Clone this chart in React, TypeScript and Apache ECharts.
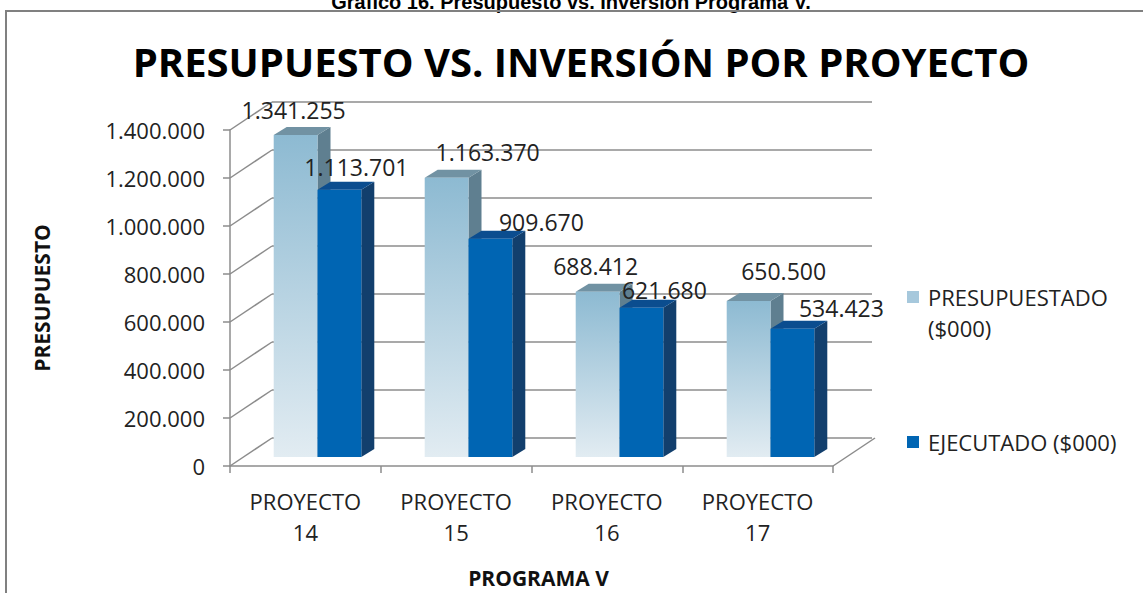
import React, { useEffect, useRef } from 'react';
import * as echarts from 'echarts';

const categories = ['PROYECTO\n14', 'PROYECTO\n15', 'PROYECTO\n16', 'PROYECTO\n17'];
const presupuestado = [1341255, 1163370, 688412, 650500];
const ejecutado = [1113701, 909670, 621680, 534423];
const seriesNames = ['PRESUPUESTADO ($000)', 'EJECUTADO ($000)'];
const yTicks = [0, 200000, 400000, 600000, 800000, 1000000, 1200000, 1400000];
const Y_MIN = 0;
const Y_MAX = 1400000;
const Y_INTERVAL = 200000;

const mainTitle = 'PRESUPUESTO VS. INVERSIÓN POR PROYECTO';
const caption = 'Gráfico 16. Presupuesto vs. Inversión Programa V.';
const yName = 'PRESUPUESTO';
const xName = 'PROGRAMA V';

// label nudges relative to each bar's front top (styling only)
const labelShiftLight = [[-2, -25], [41, -26], [-2, -26], [35, -30]];
const labelShiftDark = [[17, -23], [51, -17], [23, -18], [49, -21]];

const FONT = '"Open Sans", "Noto Sans", sans-serif';
const GRID_COLOR = '#8c8c8c';
const TEXT_COLOR = '#222222';
const BAR_DX = 13;
const BAR_DY = -8;
const WALL_DX = 42;
const WALL_DY = -28;

const fmt = (v: number) => String(Math.round(v)).replace(/\B(?=(\d{3})+(?!\d))/g, '.');

function makeBarRender(side: number, colors: any, shifts: number[][]) {
  return (params: any, api: any) => {
    const i = api.value(0) as number;
    const v = api.value(1) as number;
    const base = api.coord([i, 0]);
    const top = api.coord([i, v]);
    const band = api.size([1, 0])[0];
    const w = band * 0.29;
    const x0 = side === 0 ? base[0] - w : base[0];
    const yT = top[1];
    const yB = base[1];
    const sh = shifts[params.dataIndex] || [0, -24];
    return {
      type: 'group',
      children: [
        {
          type: 'polygon',
          shape: { points: [[x0 + w, yT], [x0 + w + BAR_DX, yT + BAR_DY], [x0 + w + BAR_DX, yB + BAR_DY], [x0 + w, yB]] },
          style: { fill: colors.side },
        },
        {
          type: 'polygon',
          shape: { points: [[x0, yT], [x0 + BAR_DX, yT + BAR_DY], [x0 + w + BAR_DX, yT + BAR_DY], [x0 + w, yT]] },
          style: { fill: colors.top },
        },
        {
          type: 'rect',
          shape: { x: x0, y: yT, width: w, height: yB - yT },
          style: {
            fill: colors.gradient
              ? new echarts.graphic.LinearGradient(0, 0, 0, 1, [
                  { offset: 0, color: colors.front[0] },
                  { offset: 1, color: colors.front[1] },
                ])
              : colors.front,
          },
        },
        {
          type: 'text',
          x: x0 + w / 2 + sh[0],
          y: yT + sh[1],
          style: {
            text: fmt(v),
            fontSize: 23,
            fontFamily: FONT,
            fill: TEXT_COLOR,
            align: 'center',
            verticalAlign: 'middle',
          },
        },
      ],
    };
  };
}

export default function App() {
  const ref = useRef<HTMLDivElement>(null);

  useEffect(() => {
    if (!ref.current) return;
    const chart = echarts.init(ref.current, null, { renderer: 'svg' });

    const option: any = {
      animation: false,
      backgroundColor: '#ffffff',
      grid: [
        { left: 230, top: 130, width: 603, height: 336 },
        { left: 272, top: 102, width: 600, height: 336 },
        { left: 242, top: 121, width: 604, height: 336 },
      ],
      xAxis: [
        {
          gridIndex: 0,
          type: 'category',
          data: categories,
          boundaryGap: true,
          axisLine: { lineStyle: { color: GRID_COLOR, width: 1.5 } },
          axisTick: { show: true, length: 7, alignWithLabel: false, lineStyle: { color: GRID_COLOR, width: 1.5 } },
          axisLabel: { margin: 19, lineHeight: 31, fontSize: 22, fontFamily: FONT, color: TEXT_COLOR, interval: 0 },
          name: xName,
          nameLocation: 'middle',
          nameGap: 101,
          nameTextStyle: { fontSize: 21, fontWeight: 'bold', fontFamily: FONT, color: '#111', padding: [0, 0, 0, 14] },
        },
        { gridIndex: 1, type: 'value', min: 0, max: 1, show: false },
        { gridIndex: 2, type: 'category', data: categories, show: false },
      ],
      yAxis: [
        {
          gridIndex: 0,
          type: 'value',
          min: Y_MIN,
          max: Y_MAX,
          interval: Y_INTERVAL,
          axisLine: { show: true, lineStyle: { color: GRID_COLOR, width: 1.5 } },
          axisTick: { show: true, length: 7, lineStyle: { color: GRID_COLOR, width: 1.5 } },
          splitLine: { show: false },
          axisLabel: { margin: 25, fontSize: 22, fontFamily: FONT, color: TEXT_COLOR, formatter: (v: number) => fmt(v) },
          name: yName,
          nameLocation: 'middle',
          nameGap: 178,
          nameRotate: 90,
          nameTextStyle: { fontSize: 21, fontWeight: 'bold', fontFamily: FONT, color: '#111' },
        },
        {
          gridIndex: 1,
          type: 'value',
          min: Y_MIN,
          max: Y_MAX,
          interval: Y_INTERVAL,
          axisLine: { show: false },
          axisTick: { show: false },
          axisLabel: { show: false },
          splitLine: { show: true, lineStyle: { color: GRID_COLOR, width: 1.5 } },
        },
        { gridIndex: 2, type: 'value', min: Y_MIN, max: Y_MAX, show: false },
      ],
      series: [
        {
          type: 'custom',
          name: 'wall-edges',
          xAxisIndex: 0,
          yAxisIndex: 0,
          silent: true,
          data: yTicks.map((v) => [0, v]),
          encode: { x: 0, y: 1 },
          renderItem: (params: any, api: any) => {
            const v = api.value(1) as number;
            const p = api.coord([0, v]);
            const band = api.size([1, 0])[0];
            const xl = p[0] - band / 2;
            const children: any[] = [
              { type: 'line', shape: { x1: xl, y1: p[1], x2: xl + WALL_DX, y2: p[1] + WALL_DY }, style: { stroke: GRID_COLOR, lineWidth: 1.5 } },
            ];
            if (v === 0) {
              const pr = api.coord([categories.length - 1, 0]);
              const xr = pr[0] + band / 2;
              children.push({ type: 'line', shape: { x1: xr, y1: pr[1], x2: xr + WALL_DX, y2: pr[1] + WALL_DY }, style: { stroke: GRID_COLOR, lineWidth: 1.5 } });
            }
            return { type: 'group', children };
          },
        },
        {
          type: 'custom',
          name: seriesNames[0],
          xAxisIndex: 2,
          yAxisIndex: 2,
          data: presupuestado.map((v, i) => [i, v]),
          encode: { x: 0, y: 1 },
          itemStyle: { color: '#a6c8dc' },
          renderItem: makeBarRender(0, { gradient: true, front: ['#8dbad2', '#e2ecf2'], top: '#7192a3', side: '#5f7f90' }, labelShiftLight),
        },
        {
          type: 'custom',
          name: seriesNames[1],
          xAxisIndex: 2,
          yAxisIndex: 2,
          data: ejecutado.map((v, i) => [i, v]),
          encode: { x: 0, y: 1 },
          itemStyle: { color: '#0065b3' },
          renderItem: makeBarRender(1, { gradient: false, front: '#0065b3', top: '#0b4d8f', side: '#123f6d' }, labelShiftDark),
        },
      ],
      graphic: [
        {
          type: 'text',
          x: 571,
          y: 12,
          style: { text: caption, font: 'bold 20px "Liberation Sans", Arial, sans-serif', fill: '#000', align: 'center', verticalAlign: 'bottom' },
        },
        {
          type: 'rect',
          shape: { x: 6, y: 11, width: 1200, height: 700 },
          style: { fill: 'none', stroke: '#808080', lineWidth: 2 },
          silent: true,
        },
        {
          type: 'text',
          x: 581,
          y: 61,
          scaleX: 1.0,
          style: { text: mainTitle, fontSize: 40, fontWeight: 'bold', fontFamily: FONT, fill: '#000', align: 'center', verticalAlign: 'middle' },
        },
        { type: 'rect', shape: { x: 907, y: 291, width: 12, height: 12 }, style: { fill: '#a6c8dc' } },
        { type: 'text', x: 928, y: 297, style: { text: 'PRESUPUESTADO', fontSize: 22, fontFamily: FONT, fill: TEXT_COLOR, align: 'left', verticalAlign: 'middle' } },
        { type: 'text', x: 928, y: 328, style: { text: '($000)', fontSize: 22, fontFamily: FONT, fill: TEXT_COLOR, align: 'left', verticalAlign: 'middle' } },
        { type: 'rect', shape: { x: 907, y: 436, width: 12, height: 12 }, style: { fill: '#0065b3' } },
        { type: 'text', x: 928, y: 442, style: { text: seriesNames[1], fontSize: 22, fontFamily: FONT, fill: TEXT_COLOR, align: 'left', verticalAlign: 'middle' } },
      ],
    };

    chart.setOption(option);
    return () => chart.dispose();
  }, []);

  return <div ref={ref} style={{ position: 'absolute', left: 0, top: 0, width: 1143, height: 593 }} />;
}
